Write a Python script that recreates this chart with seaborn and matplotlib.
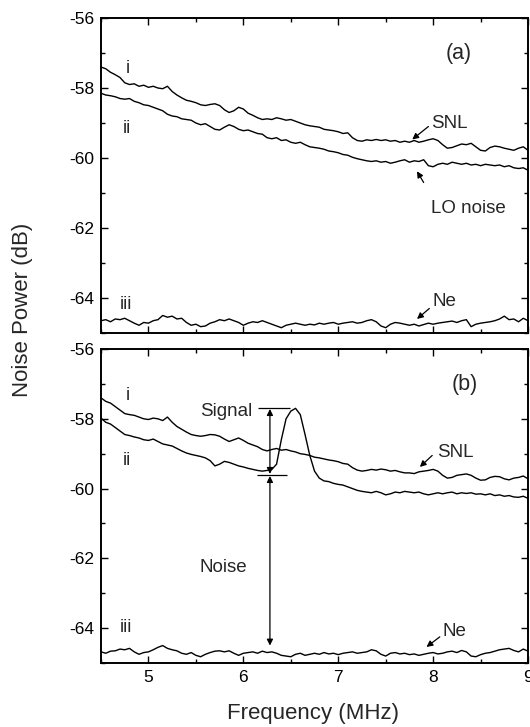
import matplotlib
matplotlib.use("Agg")
import matplotlib.pyplot as plt
import seaborn as sns
import numpy as np
import pandas as pd

snl_a = [-57.40, -57.45, -57.55, -57.62, -57.70, -57.85, -57.90, -57.88, -57.95, -57.92,
         -57.98, -57.95, -58.00, -58.02, -57.95, -58.10, -58.20, -58.28, -58.35, -58.38,
         -58.42, -58.48, -58.50, -58.47, -58.45, -58.50, -58.62, -58.70, -58.65, -58.55,
         -58.60, -58.72, -58.78, -58.85, -58.90, -58.88, -58.90, -58.85, -58.88, -58.92,
         -58.90, -58.95, -59.00, -59.05, -59.08, -59.10, -59.12, -59.18, -59.20, -59.22,
         -59.25, -59.30, -59.28, -59.42, -59.50, -59.52, -59.48, -59.50, -59.47, -59.50,
         -59.48, -59.52, -59.50, -59.55, -59.52, -59.55, -59.50, -59.55, -59.52, -59.48,
         -59.45, -59.50, -59.62, -59.72, -59.70, -59.65, -59.60, -59.62, -59.58, -59.68,
         -59.78, -59.80, -59.70, -59.66, -59.68, -59.72, -59.75, -59.78, -59.72, -59.68,
         -59.78]
lo_a = [-58.15, -58.20, -58.22, -58.25, -58.30, -58.32, -58.30, -58.38, -58.42, -58.48,
        -58.50, -58.55, -58.60, -58.65, -58.75, -58.80, -58.82, -58.88, -58.90, -58.92,
        -59.00, -59.05, -59.02, -59.10, -59.18, -59.20, -59.12, -59.05, -59.10, -59.18,
        -59.22, -59.20, -59.25, -59.30, -59.32, -59.42, -59.45, -59.42, -59.50, -59.48,
        -59.55, -59.58, -59.55, -59.62, -59.68, -59.70, -59.72, -59.75, -59.80, -59.82,
        -59.85, -59.90, -59.92, -59.98, -60.02, -60.05, -60.08, -60.10, -60.08, -60.12,
        -60.10, -60.15, -60.12, -60.08, -60.05, -60.12, -60.08, -60.10, -60.05, -60.22,
        -60.25, -60.18, -60.15, -60.18, -60.12, -60.15, -60.18, -60.15, -60.20, -60.18,
        -60.22, -60.18, -60.20, -60.22, -60.20, -60.25, -60.22, -60.28, -60.30, -60.28,
        -60.35]
ne_a = [-64.65, -64.62, -64.68, -64.60, -64.62, -64.58, -64.65, -64.72, -64.78, -64.70,
        -64.72, -64.65, -64.62, -64.50, -64.55, -64.52, -64.60, -64.58, -64.70, -64.78,
        -64.75, -64.82, -64.80, -64.72, -64.68, -64.62, -64.65, -64.60, -64.65, -64.70,
        -64.78, -64.72, -64.68, -64.70, -64.65, -64.70, -64.75, -64.80, -64.85, -64.78,
        -64.75, -64.72, -64.75, -64.78, -64.75, -64.77, -64.72, -64.75, -64.72, -64.70,
        -64.75, -64.72, -64.70, -64.68, -64.72, -64.70, -64.65, -64.62, -64.68, -64.80,
        -64.85, -64.75, -64.70, -64.72, -64.75, -64.78, -64.75, -64.80, -64.76, -64.72,
        -64.75, -64.72, -64.70, -64.68, -64.66, -64.70, -64.65, -64.62, -64.82, -64.75,
        -64.72, -64.70, -64.68, -64.65, -64.60, -64.52, -64.62, -64.60, -64.68, -64.58,
        -64.65]
snl_b = [-57.40, -57.50, -57.55, -57.65, -57.75, -57.85, -57.88, -57.90, -57.95, -58.00,
         -58.02, -57.98, -58.00, -58.05, -57.95, -58.10, -58.22, -58.30, -58.38, -58.45,
         -58.48, -58.50, -58.48, -58.45, -58.46, -58.50, -58.58, -58.65, -58.60, -58.55,
         -58.62, -58.70, -58.75, -58.80, -58.88, -58.92, -58.88, -58.85, -58.90, -58.88,
         -58.92, -58.95, -59.00, -59.02, -59.05, -59.10, -59.12, -59.15, -59.18, -59.20,
         -59.23, -59.28, -59.30, -59.40, -59.47, -59.50, -59.48, -59.45, -59.47, -59.44,
         -59.46, -59.50, -59.48, -59.52, -59.55, -59.55, -59.57, -59.52, -59.50, -59.48,
         -59.45, -59.50, -59.62, -59.70, -59.68, -59.62, -59.60, -59.58, -59.62, -59.70,
         -59.76, -59.75, -59.68, -59.65, -59.66, -59.72, -59.75, -59.70, -59.68, -59.64,
         -59.72]
sig_b = [-57.98, -58.10, -58.15, -58.25, -58.35, -58.45, -58.48, -58.52, -58.55, -58.60,
         -58.62, -58.58, -58.65, -58.72, -58.75, -58.78, -58.85, -58.92, -58.98, -59.02,
         -59.05, -59.08, -59.12, -59.20, -59.35, -59.30, -59.22, -59.25, -59.30, -59.35,
         -59.38, -59.42, -59.45, -59.48, -59.50, -59.48, -59.45, -59.30, -58.60, -58.00,
         -57.78, -57.70, -57.88, -58.45, -59.05, -59.50, -59.70, -59.78, -59.80, -59.85,
         -59.88, -59.90, -59.95, -60.00, -60.05, -60.08, -60.10, -60.12, -60.08, -60.12,
         -60.18, -60.15, -60.10, -60.12, -60.08, -60.10, -60.12, -60.10, -60.15, -60.18,
         -60.15, -60.12, -60.15, -60.12, -60.10, -60.15, -60.12, -60.14, -60.12, -60.16,
         -60.15, -60.18, -60.15, -60.20, -60.18, -60.22, -60.20, -60.24, -60.25, -60.22,
         -60.28]
ne_b = [-64.68, -64.72, -64.66, -64.65, -64.60, -64.62, -64.58, -64.68, -64.75, -64.70,
        -64.68, -64.62, -64.55, -64.50, -64.58, -64.62, -64.65, -64.72, -64.75, -64.70,
        -64.78, -64.82, -64.75, -64.70, -64.66, -64.65, -64.68, -64.65, -64.72, -64.78,
        -64.72, -64.70, -64.68, -64.72, -64.66, -64.70, -64.68, -64.72, -64.78, -64.80,
        -64.82, -64.75, -64.72, -64.78, -64.75, -64.72, -64.75, -64.70, -64.74, -64.72,
        -64.76, -64.72, -64.70, -64.68, -64.72, -64.70, -64.68, -64.62, -64.65, -64.75,
        -64.80, -64.72, -64.70, -64.74, -64.72, -64.76, -64.74, -64.78, -64.75, -64.72,
        -64.70, -64.74, -64.72, -64.68, -64.66, -64.70, -64.64, -64.68, -64.80, -64.82,
        -64.76, -64.72, -64.70, -64.66, -64.62, -64.60, -64.58, -64.64, -64.68, -64.60,
        -64.66]

sns.set_theme(style="ticks")
plt.rcParams['font.family'] = ['Liberation Sans', 'DejaVu Sans']
plt.rcParams['axes.unicode_minus'] = False

fig = plt.figure(figsize=(5.30, 7.27), dpi=100)
ax1 = fig.add_axes([0.1906, 0.5420, 0.8057, 0.4332])
ax2 = fig.add_axes([0.1906, 0.0880, 0.8057, 0.4319])

ANN = 13.5


def trace(ax, vals):
    f = np.linspace(4.5, 9.0, len(vals))
    df = pd.DataFrame({"freq": f, "power": vals})
    sns.lineplot(data=df, x="freq", y="power", ax=ax, color="black", lw=1.0)


def arrow(ax, tip, tail):
    ax.annotate("", xy=tip, xytext=tail,
                arrowprops=dict(arrowstyle="-|>", color="black", lw=0.9,
                                mutation_scale=9, shrinkA=0, shrinkB=0))


for ax, series in [(ax1, [snl_a, lo_a, ne_a]), (ax2, [snl_b, sig_b, ne_b])]:
    for s in series:
        trace(ax, s)
    ax.set_xlim(4.5, 9.0)
    ax.set_ylim(-65, -56)
    ax.set_xticks([5, 6, 7, 8, 9])
    ax.set_xticks(np.arange(4.5, 9.01, 0.5), minor=True)
    ax.set_yticks([-64, -62, -60, -58, -56])
    ax.set_yticks(np.arange(-65, -55.9, 1), minor=True)
    ax.tick_params(which="both", direction="in", top=True, right=True,
                   color="black", width=1.0, labelsize=12.5, labelcolor="black")
    ax.tick_params(which="major", length=5, pad=5)
    ax.tick_params(which="minor", length=3)
    for sp in ax.spines.values():
        sp.set_linewidth(1.4)
        sp.set_color("black")
    ax.set_xlabel("")
    ax.set_ylabel("")
    ax.text(4.76, -57.45 if ax is ax1 else -57.32, "i", fontsize=ANN, va="center")
    ax.text(4.73, -59.15 if ax is ax1 else -59.2, "ii", fontsize=ANN, va="center")
    ax.text(4.7, -64.2 if ax is ax1 else -63.97, "iii", fontsize=ANN, va="center")

ax1.tick_params(labelbottom=False)

# panel (a) annotations
ax1.text(8.13, -57.0, "(a)", fontsize=15.5, va="center")
ax1.text(7.98, -59.0, "SNL", fontsize=ANN, va="center")
arrow(ax1, (7.78, -59.47), (7.95, -59.1))
ax1.text(7.98, -61.43, "LO noise", fontsize=ANN, va="center")
arrow(ax1, (7.83, -60.38), (7.9, -60.7))
ax1.text(7.99, -64.1, "Ne", fontsize=ANN, va="center")
arrow(ax1, (7.83, -64.6), (7.96, -64.3))

# panel (b) annotations
ax2.text(8.2, -57.03, "(b)", fontsize=15.5, va="center")
ax2.text(8.04, -58.98, "SNL", fontsize=ANN, va="center")
arrow(ax2, (7.86, -59.38), (7.99, -59.05))
ax2.text(8.1, -64.1, "Ne", fontsize=ANN, va="center")
arrow(ax2, (7.93, -64.54), (8.07, -64.25))
ax2.text(5.54, -57.8, "Signal", fontsize=ANN, va="center")
ax2.hlines(-57.69, 6.15, 6.49, color="black", lw=0.9)
ax2.hlines(-59.61, 6.14, 6.46, color="black", lw=0.9)
ax2.annotate("", xy=(6.28, -57.72), xytext=(6.28, -59.58),
             arrowprops=dict(arrowstyle="<|-|>", color="black", lw=0.9,
                             mutation_scale=9, shrinkA=0, shrinkB=0))
ax2.annotate("", xy=(6.28, -59.64), xytext=(6.28, -64.5),
             arrowprops=dict(arrowstyle="<|-|>", color="black", lw=0.9,
                             mutation_scale=9, shrinkA=0, shrinkB=0))
ax2.text(5.54, -62.25, "Noise", fontsize=ANN, va="center")

fig.text(0.042, 0.574, "Noise Power (dB)", rotation=90, fontsize=16,
         ha="center", va="center")
fig.text(0.59, 0.018, "Frequency (MHz)", fontsize=16, ha="center", va="center")

fig.savefig("out.png", dpi=100)
